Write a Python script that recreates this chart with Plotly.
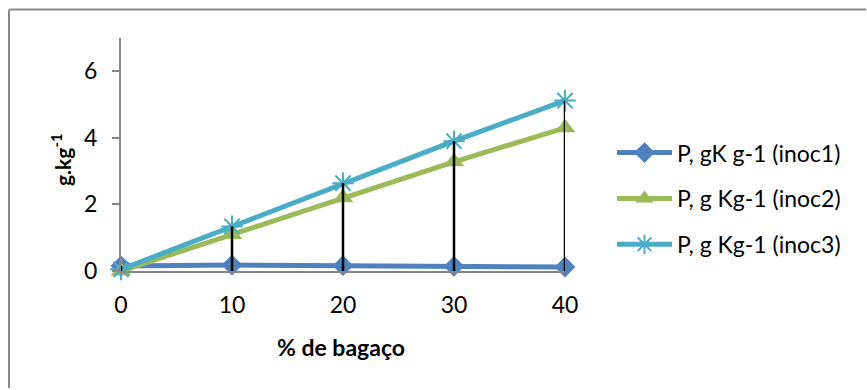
import plotly.graph_objects as go

# % de bagaço (categories) and P content per inoculum
bagaco = [0, 10, 20, 30, 40]
p_inoc1 = [0.15, 0.18, 0.16, 0.14, 0.12]
p_inoc2 = [0.0, 1.10, 2.20, 3.28, 4.30]
p_inoc3 = [0.05, 1.34, 2.64, 3.90, 5.12]

names = ["P, gK g-1 (inoc1)", "P, g Kg-1 (inoc2)", "P, g Kg-1 (inoc3)"]
colors = ["#4F81BD", "#9BBB59", "#4BACC6"]

FONT = "Lato"
FS = 23
W, H = 867, 390
ML, MR, MT, MB = 121, 302, 37.5, 118.5
PW, PH = W - ML - MR, H - MT - MB


def px_x(px):
    return (px - ML) / PW


def px_y(py):
    return (H - MB - py) / PH


fig = go.Figure()

fig.add_trace(go.Scatter(
    x=bagaco, y=p_inoc1, name=names[0], mode="lines+markers",
    line=dict(color=colors[0], width=5),
    marker=dict(symbol="diamond", size=16, color=colors[0]),
    cliponaxis=False, legendgroup="a",
))
fig.add_trace(go.Scatter(
    x=bagaco, y=p_inoc2, name=names[1], mode="lines+markers",
    line=dict(color=colors[1], width=5),
    marker=dict(symbol="triangle-up", size=18, color=colors[1]),
    cliponaxis=False, legendgroup="b",
))
fig.add_trace(go.Scatter(
    x=bagaco, y=p_inoc3, name=names[2], mode="lines+markers",
    line=dict(color=colors[2], width=5),
    marker=dict(symbol="asterisk-open", size=18, color=colors[2],
                line=dict(color=colors[2], width=2)),
    cliponaxis=False, legendgroup="c",
))

# drop lines from the highest point of each category down to the axis
drop_x, drop_y = [], []
for i, xv in enumerate(bagaco):
    top = max(p_inoc1[i], p_inoc2[i], p_inoc3[i])
    drop_x += [xv, xv, None]
    drop_y += [top, 0, None]
fig.add_trace(go.Scatter(
    x=drop_x, y=drop_y, mode="lines", line=dict(color="black", width=2.5),
    showlegend=False, hoverinfo="skip", cliponaxis=False,
))

border = dict(color="#898989", width=2)

fig.update_layout(
    width=W, height=H,
    margin=dict(l=ML, r=MR, t=MT, b=MB),
    paper_bgcolor="white", plot_bgcolor="white",
    font=dict(family=FONT, size=FS, color="black"),
    showlegend=True,
    legend=dict(
        x=px_x(612), y=px_y(131), xanchor="left", yanchor="top",
        font=dict(family=FONT, size=FS, color="black"),
        tracegroupgap=13, itemwidth=55, bgcolor="rgba(0,0,0,0)",
    ),
    xaxis=dict(
        range=[0, 40], tickvals=bagaco, ticktext=[str(v) for v in bagaco],
        showgrid=False, zeroline=False, showline=True,
        linecolor="#868686", linewidth=2, ticks="",
        tickfont=dict(family=FONT, size=FS), ticklabelstandoff=12,
    ),
    yaxis=dict(
        range=[0, 7], tickvals=[0, 2, 4, 6],
        showgrid=False, zeroline=False, showline=True,
        linecolor="#868686", linewidth=2, ticks="outside", ticklen=7,
        tickcolor="#868686", tickwidth=2,
        tickfont=dict(family=FONT, size=FS), ticklabelstandoff=10,
    ),
    annotations=[
        dict(text="<b>% de bagaço</b>", x=px_x(341), y=px_y(348),
             xref="paper", yref="paper", showarrow=False,
             font=dict(family=FONT, size=FS), xanchor="center", yanchor="middle"),
        dict(text="<b>g.kg<sup>-1</sup></b>", x=px_x(61), y=px_y(160),
             xref="paper", yref="paper", showarrow=False, textangle=-90,
             font=dict(family=FONT, size=21), xanchor="center", yanchor="middle"),
    ],
    shapes=[
        dict(type="line", xref="paper", yref="paper",
             x0=px_x(9), x1=px_x(9), y0=px_y(9), y1=px_y(H - 1),
             line=border, layer="below"),
        dict(type="line", xref="paper", yref="paper",
             x0=px_x(9), x1=px_x(W - 1), y0=px_y(9), y1=px_y(9),
             line=border, layer="below"),
    ],
)

fig.write_html("out.html", config={"displayModeBar": False})
